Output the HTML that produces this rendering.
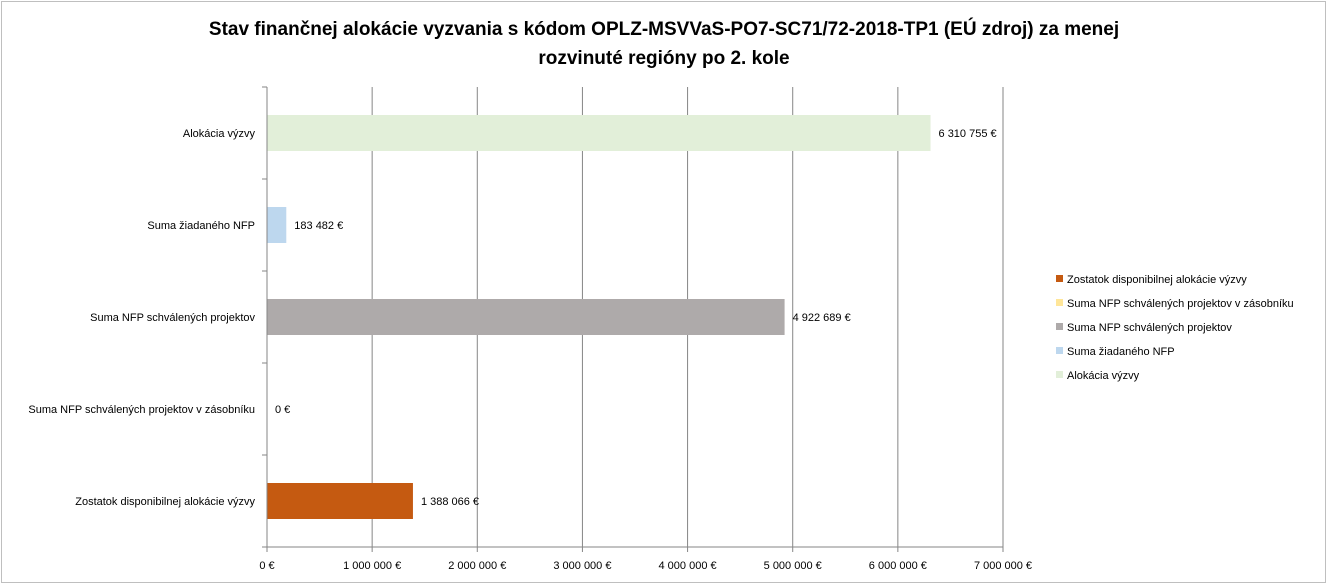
<!DOCTYPE html>
<html><head><meta charset="utf-8"><style>
body{margin:0;background:#fff;}
svg{display:block;font-family:"Liberation Sans",Calibri,sans-serif;}
</style></head><body>
<svg id="chart" width="1329" height="585">
<rect x="1.5" y="1.5" width="1324" height="581" fill="#fff" stroke="#bfbfbf"/>
<text x="664" y="35" text-anchor="middle" font-size="19" font-weight="bold" fill="#000">Stav finančnej alokácie vyzvania s kódom OPLZ-MSVVaS-PO7-SC71/72-2018-TP1 (EÚ zdroj) za menej</text>
<text x="664" y="64" text-anchor="middle" font-size="19" font-weight="bold" fill="#000">rozvinuté regióny po 2. kole</text>
<g id="grid"></g><g id="bars"></g><g id="axes"></g><g id="legend"></g>
</svg>
<script>
const categories=["Alokácia výzvy","Suma žiadaného NFP","Suma NFP schválených projektov","Suma NFP schválených projektov v zásobníku","Zostatok disponibilnej alokácie výzvy"];
const values=[6310755,183482,4922689,0,1388066];
const valueLabels=["6 310 755 €","183 482 €","4 922 689 €","0 €","1 388 066 €"];
const colors=["#e2efd9","#bdd7ee","#aeaaaa","#ffe699","#c55a11"];
const ticks=[0,1000000,2000000,3000000,4000000,5000000,6000000,7000000];
const tickLabels=["0 €","1 000 000 €","2 000 000 €","3 000 000 €","4 000 000 €","5 000 000 €","6 000 000 €","7 000 000 €"];
const legendOrder=[4,3,2,1,0];
const NS="http://www.w3.org/2000/svg";
const x0=267,x1=1003,yTop=87,yBot=547;
const band=(yBot-yTop)/categories.length;
const xs=v=>x0+(v/7000000)*(x1-x0);
function mk(t,a,p,txt){const e=document.createElementNS(NS,t);for(const k in a)e.setAttribute(k,a[k]);if(txt!==undefined)e.textContent=txt;document.getElementById(p).appendChild(e);return e;}
ticks.forEach((t,i)=>{
 const g=mk('line',{x1:xs(t),x2:xs(t),y1:yTop,y2:yBot+5,stroke:'#868686','stroke-width':1},'grid');
 
 
 const l=mk('text',{x:xs(t),y:yBot+22,'text-anchor':'middle','font-size':11,fill:'#000'},'axes',tickLabels[i]);
 
 
});
const ax=mk('line',{x1:x0,x2:x0,y1:yTop,y2:yBot,stroke:'#868686'},'axes');


const bx=mk('line',{x1:x0,x2:x1,y1:yBot,y2:yBot,stroke:'#868686'},'axes');


for(let i=0;i<=categories.length;i++){
 const tk=mk('line',{x1:x0-5,x2:x0,y1:yTop+i*band,y2:yTop+i*band,stroke:'#868686'},'axes');
 
 
}
categories.forEach((c,i)=>{
 const cy=yTop+band*(i+0.5);
 const r=mk('rect',{x:x0,y:cy-18,width:xs(values[i])-x0,height:36,fill:colors[i]},'bars');
 
 
 const vl=mk('text',{x:xs(values[i])+8,y:cy+4,'font-size':11,fill:'#000'},'bars',valueLabels[i]);
 
 
 const cl=mk('text',{x:x0-12,y:cy+4,'text-anchor':'end','font-size':11,fill:'#000'},'axes',c);
 
 
});
legendOrder.forEach((ci,j)=>{
 const y=279+j*24;
 const s=mk('rect',{x:1056,y:y-4,width:7,height:7,fill:colors[ci]},'legend');
 
 
 const t=mk('text',{x:1067,y:y+4,'font-size':11,fill:'#000'},'legend',categories[ci]);
 
 
});
</script>
</body></html>
